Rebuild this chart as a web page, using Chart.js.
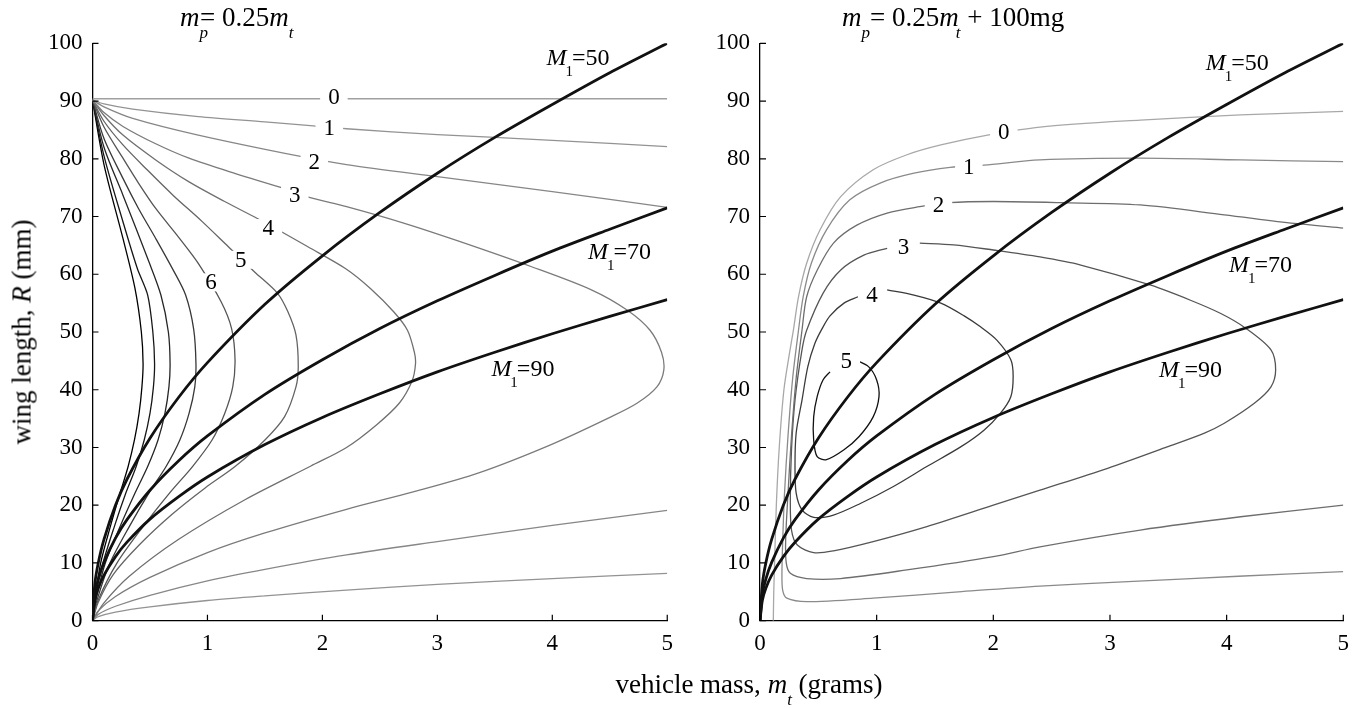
<!DOCTYPE html>
<html lang="en">
<head>
<meta charset="UTF-8">
<title>Wing length against vehicle mass</title>
<script src="https://cdn.jsdelivr.net/npm/chart.js"></script>
<style>
  body { margin: 0; background: #fff; font-family: "Liberation Serif", serif; }
  #wrap { position: relative; width: 1364px; height: 708px; overflow: hidden; }
  canvas { position: absolute; top: 0; }
  #leftChart { left: 0; }
  #rightChart { left: 682px; }
  .txt { position: absolute; font-size: 27px; line-height: 1; color: #000; white-space: nowrap; }
  .txt sub { font-size: 17px; font-style: italic; vertical-align: baseline; position: relative; top: 12px; }
</style>
</head>
<body>
<div id="wrap">
  <canvas id="leftChart" width="682" height="708"></canvas>
  <canvas id="rightChart" width="682" height="708"></canvas>

  <div class="txt" style="left:180px; top:4px;"><i>m</i><sub style="margin-right:-8px">p</sub>= 0.25<i>m</i><sub>t</sub></div>
  <div class="txt" style="left:842px; top:4px;"><i>m</i><sub>p</sub>= 0.25<i>m</i><sub style="margin-left:-3px">t</sub> + 100mg</div>
  <div class="txt" style="left:749px; top:671px; transform:translateX(-50%);">vehicle mass, <i>m</i><sub>t</sub> (grams)</div>
  <div class="txt" style="left:22px; top:332px; transform:translate(-50%,-50%) rotate(-90deg);">wing length, <i>R</i> (mm)</div>
</div>

<script>
// tick values
const massTicks = [0, 1, 2, 3, 4, 5];
const lengthTicks = [0, 10, 20, 30, 40, 50, 60, 70, 80, 90, 100];

// M1 curves (same in both panels)
const m1Mass = [0, 0.02, 0.05, 0.1, 0.2, 0.3, 0.5, 0.75, 1, 1.5, 2, 2.5, 3, 3.5, 4, 4.5, 5];
const m1R50 = [0, 6.3, 10.0, 14.1, 20.0, 24.5, 31.6, 38.7, 44.7, 54.8, 63.2, 70.7, 77.5, 83.7, 89.4, 94.9, 100];
const m1R70 = [0, 4.5, 7.2, 10.1, 14.3, 17.5, 22.6, 27.7, 32.0, 39.2, 45.2, 50.6, 55.4, 59.8, 64.0, 67.8, 71.5];
const m1R90 = [0, 3.5, 5.6, 7.9, 11.1, 13.6, 17.6, 21.5, 24.9, 30.5, 35.2, 39.3, 43.1, 46.5, 49.7, 52.7, 55.6];

// left panel contours (m_p = 0.25 m_t), [mass, R]
const leftLine0 = [[0, 90.4], [5, 90.4]];
const leftUpper1 = [[0, 90.2], [0.1, 89.5], [0.35, 88.6], [0.92, 87.3], [1.5, 86.4], [1.87, 85.8], [2.21, 85.2], [3.0, 84.2], [4.0, 83.2], [5.0, 82.1]];
const leftLower1 = [[0, 0], [0.05, 0.7], [0.2, 1.5], [0.5, 2.4], [1.0, 3.5], [1.5, 4.3], [2.21, 5.3], [3.0, 6.3], [4.0, 7.3], [5.0, 8.2]];
const leftUpper2 = [[0, 90.2], [0.1, 89.0], [0.35, 87.0], [0.92, 84.1], [1.81, 80.4], [2.21, 79.0], [3.0, 76.9], [4.0, 74.3], [5.0, 71.6]];
const leftLower2 = [[0, 0], [0.05, 1.1], [0.2, 2.5], [0.5, 4.4], [1.0, 6.9], [1.5, 8.9], [2.21, 11.4], [3.0, 13.7], [4.0, 16.5], [5.0, 19.1]];
const leftLoop3 = [[0, 90.2], [0.1, 88.0], [0.265, 85.6], [0.55, 82.6], [0.84, 80.1], [1.25, 77.4], [1.66, 74.9], [1.87, 73.4], [2.21, 71.7],
  [2.7, 68.9], [3.16, 65.9], [3.82, 61.3], [4.34, 57.3], [4.65, 53.8], [4.85, 50.3], [4.95, 46.5], [4.97, 43.4], [4.91, 40.5], [4.74, 37.7],
  [4.51, 35.3], [3.99, 30.5], [3.36, 25.6], [2.79, 22.3], [2.21, 19.3], [1.5, 15.2], [1.0, 11.8], [0.5, 7.5], [0.2, 4.2], [0.05, 1.7], [0, 0]];
const leftLoop4 = [[0, 90.2], [0.1, 87.5], [0.265, 84.1], [0.55, 79.8], [0.84, 76.0], [1.15, 72.6], [1.43, 69.7], [1.64, 67.4], [1.87, 64.8],
  [2.2, 61.0], [2.42, 57.5], [2.62, 53.5], [2.74, 50.3], [2.80, 46.5], [2.81, 44.5], [2.78, 41.5], [2.67, 37.7], [2.47, 33.9], [2.21, 30.0],
  [1.90, 26.8], [1.33, 21.0], [0.75, 14.1], [0.32, 7.7], [0.1, 3.1], [0, 0]];
const leftLoop5 = [[0, 90.2], [0.1, 86.5], [0.265, 82.4], [0.48, 78.0], [0.7, 73.7], [0.95, 69.2], [1.18, 64.8], [1.41, 60.4], [1.61, 56.7],
  [1.70, 53.5], [1.77, 49.5], [1.79, 44.0], [1.77, 40.5], [1.67, 35.3], [1.50, 31.3], [1.24, 26.7], [0.98, 23.0], [0.69, 18.4], [0.41, 13.2],
  [0.18, 8.0], [0.05, 3.2], [0, 0]];
const leftLoop6 = [[0, 90.2], [0.1, 85.5], [0.265, 80.1], [0.4, 75.8], [0.55, 71.4], [0.75, 66.4], [0.92, 61.9], [1.12, 55.2], [1.21, 50.6],
  [1.24, 45.2], [1.22, 40.5], [1.15, 35.9], [1.04, 31.3], [0.87, 26.7], [0.67, 22.1], [0.44, 16.3], [0.21, 9.9], [0.05, 3.6], [0, 0]];
const leftLoop7 = [[0, 90.2], [0.1, 83.5], [0.265, 76.6], [0.4, 71.4], [0.55, 66.2], [0.7, 60.8], [0.81, 56.4], [0.88, 50.5], [0.90, 44.5],
  [0.89, 40.5], [0.84, 35.9], [0.76, 31.3], [0.64, 26.7], [0.49, 22.1], [0.32, 16.3], [0.15, 9.9], [0.04, 3.6], [0, 0]];
const leftLoop8 = [[0, 90.2], [0.1, 82.0], [0.265, 73.7], [0.49, 62.2], [0.595, 56.4], [0.66, 50.0], [0.675, 44.5], [0.665, 40.5], [0.63, 35.9],
  [0.57, 31.3], [0.48, 26.7], [0.37, 22.1], [0.24, 16.3], [0.11, 9.9], [0.03, 3.6], [0, 0]];
const leftLoop9 = [[0, 90.2], [0.1, 80.5], [0.265, 69.1], [0.39, 61.0], [0.48, 56.4], [0.525, 50.0], [0.54, 44.5], [0.53, 40.5], [0.50, 35.9],
  [0.45, 31.3], [0.38, 26.7], [0.29, 22.1], [0.19, 16.3], [0.09, 9.9], [0.02, 3.6], [0, 0]];
const leftLoop10 = [[0, 90.2], [0.1, 79.0], [0.265, 66.2], [0.37, 57.5], [0.425, 50.0], [0.44, 44.5], [0.43, 40.5], [0.405, 35.9], [0.365, 31.3],
  [0.31, 26.7], [0.24, 22.1], [0.155, 16.3], [0.07, 9.9], [0.02, 3.6], [0, 0]];

// right panel contours (m_p = 0.25 m_t + 100 mg)
const rightC0 = [[0.114, 0], [0.118, 5], [0.125, 10], [0.14, 20], [0.165, 30], [0.205, 40], [0.25, 46], [0.286, 50.3], [0.33, 56.1], [0.40, 61.9],
  [0.515, 67.7], [0.69, 73.4], [0.97, 78.1], [1.26, 80.7], [1.55, 82.4], [1.95, 84.1], [2.4, 85.5], [3.26, 86.7], [4.12, 87.6], [5.0, 88.2]];
const rightC1 = [[5.0, 79.5], [4.12, 79.8], [3.26, 80.1], [2.4, 79.8], [1.92, 78.9], [1.63, 78.5], [1.32, 77.5], [1.03, 75.8], [0.77, 72.9],
  [0.57, 67.7], [0.44, 61.9], [0.37, 56.1], [0.33, 50.3], [0.28, 42], [0.24, 32], [0.21, 22], [0.195, 14], [0.188, 8], [0.195, 5.2], [0.23, 3.9],
  [0.40, 3.3], [0.97, 3.9], [1.7, 5.0], [2.4, 6.0], [3.2, 6.8], [4.1, 7.7], [5.0, 8.5]];
const rightC2 = [[5.0, 68.0], [4.58, 68.8], [3.98, 70.3], [3.26, 72.0], [2.58, 72.4], [2.0, 72.6], [1.62, 72.4], [1.37, 71.7], [1.09, 70.6],
  [0.83, 68.5], [0.63, 65.4], [0.49, 60.7], [0.40, 56.1], [0.36, 50.3], [0.31, 42], [0.27, 32], [0.24, 22], [0.22, 14], [0.225, 10], [0.26, 8.2],
  [0.40, 7.3], [0.69, 7.3], [1.26, 8.8], [2.0, 11.1], [2.4, 12.8], [3.26, 15.7], [4.12, 18.0], [5.0, 20.0]];
const rightLoop3 = [[1.37, 65.4], [1.66, 65.1], [2.0, 64.2], [2.4, 63.0], [2.75, 61.6], [3.35, 58.1], [3.69, 55.5], [3.95, 53.2], [4.16, 50.7],
  [4.38, 46.9], [4.42, 43.4], [4.38, 40.5], [4.24, 37.7], [3.98, 34.2], [3.81, 32.5], [3.49, 30.1], [2.98, 26.4], [2.4, 22.6], [2.0, 20.0],
  [1.43, 16.3], [0.97, 13.7], [0.63, 12.1], [0.46, 11.8], [0.32, 13.1], [0.27, 15.7], [0.26, 20.9], [0.27, 29.6], [0.30, 38.2], [0.36, 46.9],
  [0.40, 50.3], [0.54, 56.7], [0.69, 60.7], [0.89, 63.3], [1.09, 64.5]];
const rightLoop4 = [[1.09, 57.3], [1.32, 56.4], [1.55, 55.0], [1.75, 52.8], [1.89, 50.9], [2.03, 48.6], [2.15, 45.2], [2.17, 42.3], [2.15, 38.8],
  [2.06, 35.9], [1.92, 33.0], [1.72, 30.1], [1.43, 26.7], [1.14, 23.2], [0.86, 20.3], [0.63, 18.3], [0.46, 17.9], [0.36, 19.2], [0.31, 22.1],
  [0.30, 26.7], [0.31, 32.5], [0.36, 38.2], [0.41, 44.0], [0.47, 48.0], [0.53, 50.5], [0.60, 52.8], [0.72, 55.0], [0.84, 56.1]];
const rightLoop5 = [[0.815, 45.2], [0.93, 44.0], [1.0, 41.7], [1.02, 38.8], [0.97, 35.3], [0.85, 31.9], [0.72, 29.6], [0.57, 27.9], [0.49, 28.4],
  [0.46, 31.3], [0.46, 35.3], [0.49, 38.8], [0.54, 41.7], [0.60, 43.1]];

const thin = 1.3, thick = 2.8;

function curve(pts, color, width, order) {
  return {
    data: pts.map(p => ({ x: p[0], y: p[1] })),
    borderColor: color,
    borderWidth: width,
    order: order
  };
}

function m1Sets() {
  return [m1R50, m1R70, m1R90].map(r =>
    curve(m1Mass.map((m, i) => [m, r[i]]), '#111', thick, 0));
}

const leftSets = [
  curve(leftLine0, '#a0a0a0', thin, 1),
  curve(leftUpper1, '#939393', thin, 1), curve(leftLower1, '#939393', thin, 1),
  curve(leftUpper2, '#878787', thin, 1), curve(leftLower2, '#878787', thin, 1),
  curve(leftLoop3, '#7b7b7b', thin, 1),
  curve(leftLoop4, '#707070', thin, 1),
  curve(leftLoop5, '#646464', thin, 1),
  curve(leftLoop6, '#555555', thin, 1),
  curve(leftLoop7, '#383838', thin, 1),
  curve(leftLoop8, '#262626', thin, 1),
  curve(leftLoop9, '#161616', thin, 1),
  curve(leftLoop10, '#000000', thin, 1)
].concat(m1Sets());

const rightSets = [
  curve(rightC0, '#a8a8a8', thin, 1),
  curve(rightC1, '#8a8a8a', thin, 1),
  curve(rightC2, '#6e6e6e', thin, 1),
  curve(rightLoop3, '#555555', thin, 1),
  curve(rightLoop4, '#3a3a3a', thin, 1),
  curve(rightLoop5, '#111111', thin, 1)
].concat(m1Sets());

// contour level labels and M1 labels (data coordinates)
const leftLevelLabels = [
  { t: '0', x: 2.10, y: 90.7 }, { t: '1', x: 2.06, y: 85.3 }, { t: '2', x: 1.93, y: 79.5 }, { t: '3', x: 1.76, y: 73.7 },
  { t: '4', x: 1.53, y: 68.0 }, { t: '5', x: 1.29, y: 62.5 }, { t: '6', x: 1.03, y: 58.6 }
];
const rightLevelLabels = [
  { t: '0', x: 2.09, y: 84.7 }, { t: '1', x: 1.79, y: 78.6 }, { t: '2', x: 1.53, y: 72.0 },
  { t: '3', x: 1.23, y: 64.8 }, { t: '4', x: 0.96, y: 56.4 }, { t: '5', x: 0.74, y: 44.9 }
];
const leftM1Labels = [{ v: '50', x: 3.95, y: 96.2 }, { v: '70', x: 4.31, y: 62.6 }, { v: '90', x: 3.47, y: 42.4 }];
const rightM1Labels = [{ v: '50', x: 3.82, y: 95.3 }, { v: '70', x: 4.02, y: 60.4 }, { v: '90', x: 3.42, y: 42.2 }];

const FONT = '"Liberation Serif", "Times New Roman", serif';

const annotations = {
  id: 'annotations',
  afterDatasetsDraw(chart, args, opts) {
    const { ctx, scales: { x, y } } = chart;
    ctx.save();
    ctx.font = '23px ' + FONT;
    ctx.textAlign = 'center';
    ctx.textBaseline = 'middle';
    opts.levels.forEach(l => {
      const px = x.getPixelForValue(l.x), py = y.getPixelForValue(l.y);
      const w = ctx.measureText(l.t).width;
      ctx.fillStyle = '#fff';
      ctx.fillRect(px - w / 2 - 8, py - 9, w + 16, 18);
      ctx.fillStyle = '#000';
      ctx.fillText(l.t, px, py + 1);
    });
    ctx.textAlign = 'left';
    ctx.textBaseline = 'alphabetic';
    ctx.fillStyle = '#000';
    opts.m1.forEach(l => {
      const px = x.getPixelForValue(l.x), py = y.getPixelForValue(l.y);
      ctx.font = 'italic 24px ' + FONT;
      ctx.fillText('M', px, py);
      const wM = ctx.measureText('M').width;
      ctx.font = '15px ' + FONT;
      ctx.fillText('1', px + wM - 1, py + 11);
      const w1 = ctx.measureText('1').width;
      ctx.font = '24px ' + FONT;
      ctx.fillText('=' + l.v, px + wM + w1 - 2, py);
    });
    ctx.restore();
  }
};

// tick marks pointing into the plot
const inwardTicks = {
  id: 'inwardTicks',
  afterDraw(chart) {
    const { ctx, chartArea: a, scales: { x, y } } = chart;
    ctx.save();
    ctx.strokeStyle = '#000';
    ctx.lineWidth = 1.2;
    ctx.beginPath();
    y.ticks.forEach(t => {
      const py = y.getPixelForValue(t.value);
      ctx.moveTo(a.left, py);
      ctx.lineTo(a.left + 6, py);
    });
    x.ticks.forEach(t => {
      const px = x.getPixelForValue(t.value);
      ctx.moveTo(px, a.bottom);
      ctx.lineTo(px, a.bottom - 6);
    });
    ctx.stroke();
    ctx.restore();
  }
};

function makeChart(id, sets, yWidth, padRight, levels, m1) {
  return new Chart(document.getElementById(id), {
    type: 'line',
    data: { datasets: sets },
    plugins: [annotations, inwardTicks],
    options: {
      responsive: false,
      animation: false,
      devicePixelRatio: 1,
      layout: { padding: { left: 0, right: padRight, top: 43.3, bottom: 0 } },
      elements: { point: { radius: 0 }, line: { tension: 0.3, fill: false } },
      scales: {
        x: {
          type: 'linear', min: 0, max: 5,
          afterBuildTicks: s => { s.ticks = massTicks.map(v => ({ value: v })); },
          afterFit: s => { s.height = 87.3; },
          grid: { display: false, drawTicks: false },
          border: { display: true, color: '#000', width: 1.3 },
          ticks: { color: '#000', padding: 9, font: { family: FONT, size: 23 }, maxRotation: 0 }
        },
        y: {
          type: 'linear', min: 0, max: 100,
          afterBuildTicks: s => { s.ticks = lengthTicks.map(v => ({ value: v })); },
          afterFit: s => { s.width = yWidth; },
          grid: { display: false, drawTicks: false },
          border: { display: true, color: '#000', width: 1.3 },
          ticks: { color: '#000', padding: 10, font: { family: FONT, size: 23 } }
        }
      },
      plugins: {
        legend: { display: false },
        tooltip: { enabled: false },
        annotations: { levels: levels, m1: m1 }
      }
    }
  });
}

makeChart('leftChart', leftSets, 92.5, 8, leftLevelLabels, leftM1Labels);
makeChart('rightChart', rightSets, 78, 20.7, rightLevelLabels, rightM1Labels);
</script>
</body>
</html>
